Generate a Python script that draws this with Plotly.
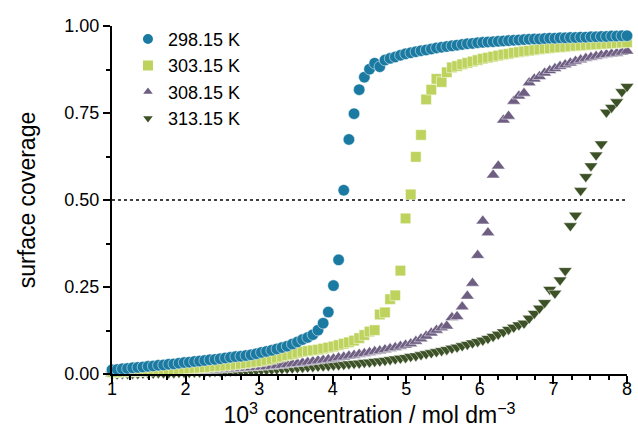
import plotly.graph_objects as go

# Concentration grid (10^3 c / mol dm^-3), shared by all four isotherms
conc = [
    1.00, 1.07, 1.14, 1.21, 1.28, 1.35, 1.42, 1.49, 1.56, 1.63,
    1.70, 1.77, 1.84, 1.91, 1.98, 2.05, 2.12, 2.19, 2.26, 2.33,
    2.40, 2.47, 2.54, 2.61, 2.68, 2.75, 2.82, 2.89, 2.96, 3.03,
    3.10, 3.17, 3.24, 3.31, 3.38, 3.45, 3.52, 3.59, 3.66, 3.73,
    3.80, 3.87, 3.94, 4.01, 4.08, 4.15, 4.22, 4.29, 4.36, 4.43,
    4.50, 4.57, 4.64, 4.71, 4.78, 4.85, 4.92, 4.99, 5.06, 5.13,
    5.20, 5.27, 5.34, 5.41, 5.48, 5.55, 5.62, 5.69, 5.76, 5.83,
    5.90, 5.97, 6.04, 6.11, 6.18, 6.25, 6.32, 6.39, 6.46, 6.53,
    6.60, 6.67, 6.74, 6.81, 6.88, 6.95, 7.02, 7.09, 7.16, 7.23,
    7.30, 7.37, 7.44, 7.51, 7.58, 7.65, 7.72, 7.79, 7.86, 7.93,
    8.00,
]

# Surface coverage at each temperature
theta_298 = [
    0.012, 0.013, 0.015, 0.016, 0.018, 0.019, 0.020, 0.022, 0.023, 0.025,
    0.026, 0.028, 0.029, 0.031, 0.033, 0.034, 0.036, 0.037, 0.039, 0.041,
    0.042, 0.044, 0.046, 0.048, 0.050, 0.051, 0.053, 0.055, 0.058, 0.062,
    0.065, 0.068, 0.072, 0.076, 0.080, 0.086, 0.092, 0.099, 0.105, 0.113,
    0.126, 0.146, 0.178, 0.254, 0.328, 0.528, 0.674, 0.748, 0.817, 0.853,
    0.876, 0.893, 0.883, 0.902, 0.907, 0.911, 0.916, 0.920, 0.923, 0.926,
    0.929, 0.931, 0.934, 0.937, 0.939, 0.941, 0.943, 0.945, 0.947, 0.949,
    0.950, 0.952, 0.953, 0.954, 0.955, 0.956, 0.957, 0.958, 0.959, 0.960,
    0.961, 0.962, 0.963, 0.963, 0.964, 0.965, 0.965, 0.966, 0.966, 0.967,
    0.967, 0.968, 0.968, 0.969, 0.969, 0.970, 0.970, 0.971, 0.971, 0.972,
    0.972,
]
theta_303 = [
    0.005, 0.005, 0.006, 0.007, 0.007, 0.008, 0.009, 0.009, 0.010, 0.011,
    0.011, 0.012, 0.013, 0.014, 0.015, 0.016, 0.017, 0.018, 0.019, 0.020,
    0.022, 0.023, 0.024, 0.026, 0.027, 0.029, 0.031, 0.033, 0.035, 0.037,
    0.040, 0.043, 0.047, 0.050, 0.054, 0.057, 0.061, 0.064, 0.066, 0.068,
    0.070, 0.073, 0.076, 0.079, 0.083, 0.087, 0.091, 0.096, 0.103, 0.112,
    0.122, 0.126, 0.171, 0.177, 0.215, 0.226, 0.297, 0.447, 0.516, 0.624,
    0.687, 0.789, 0.817, 0.848, 0.839, 0.867, 0.881, 0.885, 0.890, 0.894,
    0.898, 0.902, 0.906, 0.909, 0.912, 0.915, 0.918, 0.920, 0.923, 0.925,
    0.927, 0.929, 0.931, 0.933, 0.935, 0.936, 0.938, 0.939, 0.940, 0.942,
    0.943, 0.944, 0.945, 0.946, 0.947, 0.948, 0.949, 0.950, 0.951, 0.952,
    0.953,
]
theta_308 = [
    0.001, 0.001, 0.002, 0.002, 0.003, 0.003, 0.004, 0.004, 0.005, 0.005,
    0.006, 0.006, 0.007, 0.007, 0.008, 0.008, 0.009, 0.009, 0.010, 0.011,
    0.011, 0.012, 0.013, 0.014, 0.015, 0.016, 0.017, 0.018, 0.019, 0.020,
    0.021, 0.022, 0.024, 0.025, 0.027, 0.029, 0.030, 0.032, 0.034, 0.036,
    0.038, 0.040, 0.042, 0.044, 0.047, 0.049, 0.052, 0.054, 0.057, 0.059,
    0.062, 0.065, 0.067, 0.070, 0.073, 0.076, 0.080, 0.083, 0.087, 0.094,
    0.101, 0.109, 0.118, 0.126, 0.133, 0.138, 0.162, 0.165, 0.193, 0.224,
    0.261, 0.341, 0.440, 0.406, 0.572, 0.598, 0.730, 0.741, 0.784, 0.799,
    0.807, 0.837, 0.848, 0.855, 0.865, 0.872, 0.878, 0.884, 0.889, 0.894,
    0.899, 0.903, 0.907, 0.910, 0.913, 0.916, 0.918, 0.920, 0.922, 0.925,
    0.928,
]
theta_313 = [
    0.000, 0.000, 0.001, 0.001, 0.001, 0.001, 0.002, 0.002, 0.002, 0.003,
    0.003, 0.003, 0.003, 0.004, 0.004, 0.004, 0.005, 0.005, 0.006, 0.006,
    0.007, 0.007, 0.008, 0.008, 0.009, 0.009, 0.010, 0.010, 0.011, 0.012,
    0.012, 0.013, 0.014, 0.015, 0.016, 0.017, 0.018, 0.019, 0.020, 0.021,
    0.022, 0.023, 0.024, 0.025, 0.026, 0.027, 0.029, 0.030, 0.031, 0.033,
    0.034, 0.036, 0.037, 0.039, 0.041, 0.043, 0.045, 0.047, 0.050, 0.052,
    0.055, 0.058, 0.061, 0.064, 0.067, 0.070, 0.074, 0.077, 0.081, 0.085,
    0.089, 0.093, 0.097, 0.102, 0.108, 0.114, 0.121, 0.128, 0.134, 0.141,
    0.146, 0.160, 0.174, 0.189, 0.205, 0.243, 0.232, 0.270, 0.297, 0.426,
    0.456, 0.527, 0.567, 0.598, 0.629, 0.661, 0.752, 0.766, 0.782, 0.811,
    0.826,
]

x_ticks = [1, 2, 3, 4, 5, 6, 7, 8]
y_ticks = [0.0, 0.25, 0.5, 0.75, 1.0]
y_tick_text = ["0.00", "0.25", "0.50", "0.75", "1.00"]

FONT = "Arial, Liberation Sans, Helvetica, sans-serif"

# (label, values, colour, symbol, size) -- drawn hottest first so the
# 298.15 K circles sit on top, legend listed in reverse
series = [
    ("313.15 K", theta_313, "#3c5126", "triangle-down", 12),
    ("308.15 K", theta_308, "#6d5e82", "triangle-up", 12),
    ("303.15 K", theta_303, "#bdd35d", "square", 10.5),
    ("298.15 K", theta_298, "#1b7aa1", "circle", 11.5),
]

fig = go.Figure()
for name, vals, colour, symbol, size in series:
    fig.add_trace(go.Scatter(
        x=conc, y=vals, name=name, mode="markers",
        cliponaxis=False,
        marker=dict(symbol=symbol, size=size, color=colour,
                    line=dict(width=0.5, color="white")),
    ))

# half-coverage guide
fig.add_shape(type="line", xref="x", yref="y", x0=1, x1=8, y0=0.5, y1=0.5,
              line=dict(color="black", width=1.5, dash="dot"), layer="below")

fig.update_layout(
    width=638, height=442,
    margin=dict(l=112, r=6, t=26, b=68),
    paper_bgcolor="white", plot_bgcolor="white",
    font=dict(family=FONT, size=18, color="black"),
    showlegend=True,
    legend=dict(
        x=0.031, y=1.015, xanchor="left", yanchor="top",
        traceorder="reversed", font=dict(size=18, family=FONT),
        bgcolor="rgba(0,0,0,0)", itemsizing="constant",
        tracegroupgap=0,
    ),
    xaxis=dict(
        range=[1, 8], tickvals=x_ticks, ticktext=[str(v) for v in x_ticks],
        showgrid=False, zeroline=False,
        showline=True, linecolor="black", linewidth=2,
        ticks="outside", ticklen=8, tickwidth=1.8, tickcolor="black",
        ticklabelstandoff=-11,
        minor=dict(dtick=0.25, ticks="outside", ticklen=4, tickwidth=1.5,
                   tickcolor="black", showgrid=False),
        tickfont=dict(size=18),
        title=dict(text="10<sup>3</sup> concentration / mol dm<sup>\u22123</sup>",
                   font=dict(size=23), standoff=2),
    ),
    yaxis=dict(
        range=[0, 1], tickvals=y_ticks, ticktext=y_tick_text,
        showgrid=False, zeroline=False,
        showline=True, linecolor="black", linewidth=2,
        ticks="outside", ticklen=7, tickwidth=1.8, tickcolor="black",
        minor=dict(dtick=0.125, ticks="outside", ticklen=4, tickwidth=1.5,
                   tickcolor="black", showgrid=False),
        tickfont=dict(size=18),
        title=dict(text="surface coverage", font=dict(size=23), standoff=22),
    ),
)

fig.write_html("out.html")
